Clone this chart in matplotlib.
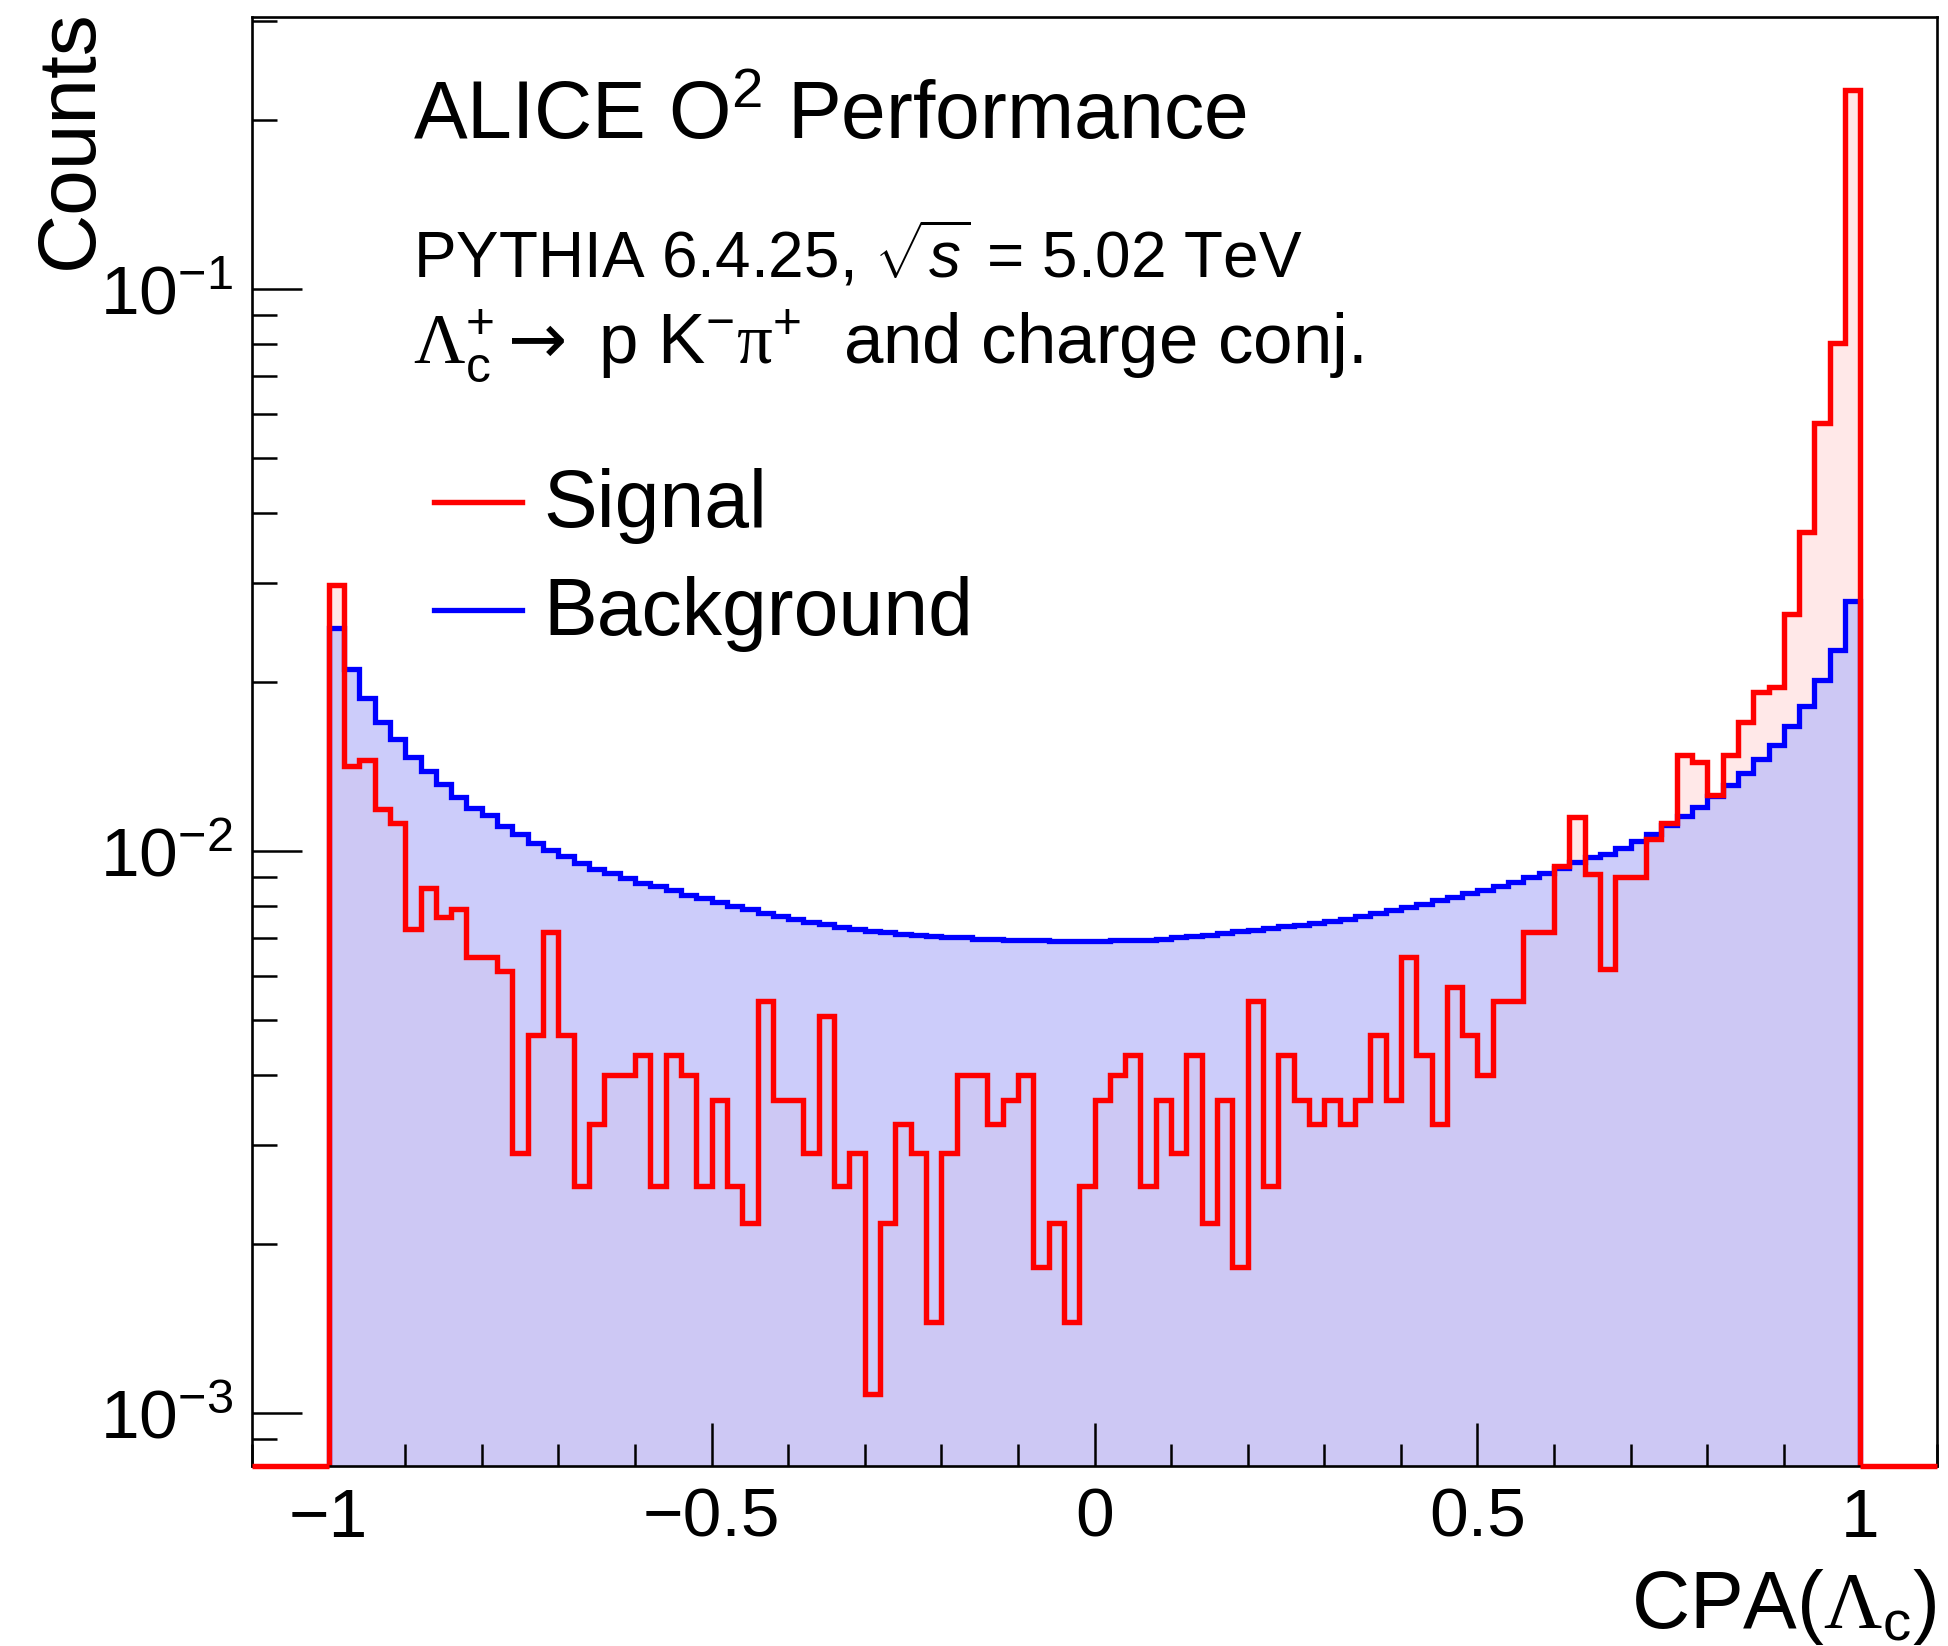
import matplotlib

matplotlib.use("Agg")
import matplotlib.pyplot as plt
import numpy as np
from matplotlib.lines import Line2D
from matplotlib.ticker import FuncFormatter, LogLocator, MultipleLocator, NullFormatter

W, H, DPI = 1948, 1646, 100

plt.rcParams["font.family"] = ["Liberation Sans", "DejaVu Sans"]
plt.rcParams["mathtext.fontset"] = "custom"
plt.rcParams["mathtext.rm"] = "Liberation Sans"
plt.rcParams["mathtext.it"] = "Liberation Sans:italic"
plt.rcParams["mathtext.bf"] = "Liberation Serif"
plt.rcParams["mathtext.sf"] = "DejaVu Sans"

# histogram binning: 100 bins on [-1, 1]
bin_lo, bin_hi, n_bins = -1.0, 1.0, 100

signal = [
    0.0297, 0.0142, 0.0145, 0.0119, 0.0112, 0.00727, 0.00861, 0.00762, 0.00789, 0.00649,
    0.00649, 0.00612, 0.00290, 0.00470, 0.00718, 0.00470, 0.00254, 0.00327, 0.00399, 0.00399,
    0.00433, 0.00254, 0.00433, 0.00399, 0.00254, 0.00361, 0.00254, 0.00218, 0.00542, 0.00361,
    0.00361, 0.00290, 0.00508, 0.00254, 0.00290, 0.00108, 0.00218, 0.00327, 0.00290, 0.00145,
    0.00290, 0.00399, 0.00399, 0.00327, 0.00361, 0.00399, 0.00182, 0.00218, 0.00145, 0.00254,
    0.00361, 0.00399, 0.00433, 0.00254, 0.00361, 0.00290, 0.00433, 0.00218, 0.00361, 0.00182,
    0.00542, 0.00254, 0.00433, 0.00361, 0.00327, 0.00361, 0.00327, 0.00361, 0.00470, 0.00361,
    0.00649, 0.00433, 0.00327, 0.00574, 0.00470, 0.00399, 0.00542, 0.00542, 0.00718, 0.00718,
    0.00942, 0.0115, 0.00909, 0.00616, 0.00901, 0.00901, 0.0105, 0.0112, 0.0148, 0.0144,
    0.0126, 0.0148, 0.0170, 0.0192, 0.0196, 0.0264, 0.0369, 0.0577, 0.0802, 0.226,
]

background = [
    0.0249, 0.0211, 0.0187, 0.0170, 0.0158, 0.01472, 0.01388, 0.01315, 0.01248, 0.01191,
    0.01158, 0.01110, 0.01072, 0.01035, 0.01005, 0.00980, 0.00953, 0.00930, 0.00913, 0.00894,
    0.00877, 0.00867, 0.00851, 0.00837, 0.00824, 0.00812, 0.00799, 0.00788, 0.00777, 0.00766,
    0.00757, 0.00748, 0.00741, 0.00734, 0.00727, 0.00722, 0.00717, 0.00713, 0.00710, 0.00706,
    0.00703, 0.00702, 0.00699, 0.00697, 0.00696, 0.00694, 0.00694, 0.00692, 0.00692, 0.00692,
    0.00692, 0.00694, 0.00694, 0.00696, 0.00699, 0.00702, 0.00706, 0.00710, 0.00715, 0.00720,
    0.00725, 0.00730, 0.00735, 0.00740, 0.00744, 0.00751, 0.00758, 0.00767, 0.00777, 0.00786,
    0.00795, 0.00806, 0.00818, 0.00830, 0.00842, 0.00854, 0.00868, 0.00882, 0.00898, 0.00916,
    0.00935, 0.00955, 0.00975, 0.00990, 0.01013, 0.01042, 0.01074, 0.01112, 0.01153, 0.01200,
    0.01251, 0.01311, 0.01380, 0.01458, 0.01546, 0.01667, 0.01811, 0.02013, 0.02281, 0.02786,
]

x_range = (-1.1, 1.1)
y_range = (8.05e-4, 0.305)


def fig_xy(x, y):
    # pixel position (from top-left) -> figure fraction
    return x / W, 1 - y / H


edges = np.linspace(bin_lo, bin_hi, n_bins + 1)

fig = plt.figure(figsize=(W / DPI, H / DPI), dpi=DPI)
ax = fig.add_axes([252 / W, 1 - 1466 / H, 1685 / W, 1449 / H])
ax.set_xlim(*x_range)
ax.set_yscale("log")
ax.set_ylim(*y_range)

# dotted fills of the original approximated with flat colours
ax.stairs(signal, edges, baseline=y_range[0], fill=True,
          facecolor="#ffeded", linewidth=0, zorder=1)
ax.stairs(background, edges, baseline=y_range[0], fill=True,
          facecolor="#ccccfa", linewidth=0, zorder=1.1)
ax.stairs(signal, edges, baseline=y_range[0], fill=True,
          facecolor=(1.0, 0.47, 0.47, 0.04), linewidth=0, zorder=1.2)

ax.stairs(background, edges, baseline=y_range[0], color="blue", linewidth=3.8, zorder=2)
ax.stairs(signal, edges, baseline=y_range[0], color="red", linewidth=3.9, zorder=2.1)
# empty under/overflow region drawn on the frame bottom
ax.hlines([y_range[0], y_range[0]], [x_range[0], bin_hi], [bin_lo, x_range[1]],
          color="red", linewidth=3.9, zorder=3, clip_on=False)

ax.xaxis.set_major_locator(MultipleLocator(0.5))
ax.xaxis.set_minor_locator(MultipleLocator(0.1))
ax.xaxis.set_major_formatter(FuncFormatter(lambda v, p: f"{v + 0.0:g}".replace("-", "\u2212")))
ax.yaxis.set_major_locator(LogLocator(base=10, numticks=10))
ax.yaxis.set_minor_locator(LogLocator(base=10, subs=np.arange(2, 10), numticks=20))
ax.yaxis.set_minor_formatter(NullFormatter())

ax.tick_params(which="both", direction="in", top=False, right=False, width=1.8, labelsize=50)
ax.tick_params(axis="x", which="major", length=31, pad=15)
ax.tick_params(axis="x", which="minor", length=16)
ax.tick_params(axis="y", which="major", length=36, pad=13.5)
ax.tick_params(axis="y", which="minor", length=18)
for sp in ax.spines.values():
    sp.set_linewidth(1.9)

fig.text(*fig_xy(413, 138), r"ALICE O$^{2}$ Performance", fontsize=58, va="baseline")
fig.text(*fig_xy(413, 278), r"PYTHIA 6.4.25, $\sqrt{s}$ = 5.02 TeV", fontsize=46, va="baseline")
fig.text(*fig_xy(413, 364),
         r"$\mathbf{\Lambda}_{\mathrm{c}}^{+}\mathsf{\rightarrow}$ p K$^{-}$$\mathbf{\pi}^{+}$  and charge conj.",
         fontsize=51, va="baseline")

fig.text(*fig_xy(1937, 1628), r"CPA($\mathbf{\Lambda}_{\mathrm{c}}$)", fontsize=58,
         ha="right", va="baseline")
fig.text(*fig_xy(92, 9), "Counts", fontsize=59, rotation=90, rotation_mode="anchor",
         ha="right", va="baseline")

handles = [Line2D([], [], color="red", linewidth=3.9),
           Line2D([], [], color="blue", linewidth=3.8)]
ax.legend(handles, ["Signal", "Background"], loc="upper left",
          bbox_to_anchor=fig_xy(434, 468), bbox_transform=fig.transFigure,
          frameon=False, fontsize=58, handlelength=1.09, handleheight=0.45,
          handletextpad=0.27, labelspacing=0.4, borderpad=0, borderaxespad=0)

fig.savefig("out.png", dpi=DPI)
